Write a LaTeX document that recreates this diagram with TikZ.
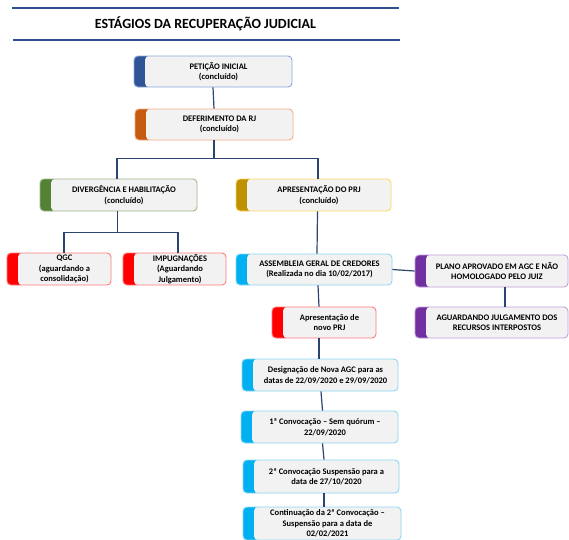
\documentclass[tikz,border=0pt]{standalone}
\usepackage{fontspec}
\setmainfont{Carlito}
\definecolor{boxgray}{HTML}{F2F2F2}
\definecolor{linec}{HTML}{2B4470}
\definecolor{titlec}{HTML}{2F4F8F}
\definecolor{tabblue}{HTML}{2F5597}\definecolor{bdblue}{HTML}{8FAADC}
\definecolor{taborange}{HTML}{C55A11}\definecolor{bdorange}{HTML}{F4B183}
\definecolor{tabgreen}{HTML}{548235}\definecolor{bdgreen}{HTML}{9DB88A}
\definecolor{tabgold}{HTML}{BF9000}\definecolor{bdgold}{HTML}{FFD966}
\definecolor{tabred}{HTML}{FF0000}\definecolor{bdred}{HTML}{FF7C80}
\definecolor{tabcyan}{HTML}{00B0F0}\definecolor{bdcyan}{HTML}{8DD8F5}
\definecolor{tabpurple}{HTML}{7030A0}\definecolor{bdpurple}{HTML}{C3A0DE}
\tikzset{
  stagebox/.style 2 args={rectangle, rounded corners=4pt, draw=#2, fill=boxgray,
    line width=0.9pt, inner sep=0pt,
    path picture={
      \fill[#1] (path picture bounding box.south west) rectangle
        ([xshift=16pt]path picture bounding box.north west);
      \fill[boxgray, rounded corners=4pt] ([xshift=11pt]path picture bounding box.south west)
        rectangle ([xshift=8pt]path picture bounding box.north east);
    }},
  stagetext/.style={align=center, inner sep=0pt, font=\bfseries\fontsize{8.5}{10.5}\selectfont, text=black},
  conn/.style={draw=linec, line width=1.2pt},
}
\newcommand\stage[8]{%
  \node[stagebox={#6}{#7}, minimum width={#4-#2}, minimum height={#5-#3}] (#1) at ({(#2+#4)/2},{(#3+#5)/2}) {};
  \node[stagetext] (#1-t) at ([xshift=5.5pt]#1.center) {#8};
}
\begin{document}
\begin{tikzpicture}[x=1pt,y=-1pt]
\useasboundingbox (0,0) rectangle (569,539);
\fill[white] (0,0) rectangle (569,539);
% title
\coordinate (tl1) at (12,8); \coordinate (tr1) at (399,8);
\coordinate (tl2) at (13,40); \coordinate (tr2) at (400,40);
\draw[titlec, line width=1.4pt] (tl1) -- (tr1);
\draw[titlec, line width=1.4pt] (tl2) -- (tr2);
\node[font=\bfseries\fontsize{14}{16}\selectfont, inner sep=0pt] (title) at (205.5,24) {ESTÁGIOS DA RECUPERAÇÃO JUDICIAL};
% boxes
\stage{pet}{134}{56}{292}{87}{tabblue}{bdblue}{PETIÇÃO INICIAL\\(concluído)}
\stage{def}{135}{109}{293}{140}{taborange}{bdorange}{DEFERIMENTO DA RJ\\(concluído)}
\stage{div}{40}{179}{197}{211}{tabgreen}{bdgreen}{DIVERGÊNCIA E HABILITAÇÃO\\(concluído)}
\stage{apr}{236}{179}{391}{211}{tabgold}{bdgold}{APRESENTAÇÃO DO PRJ\\(concluído)}
\stage{qgc}{7}{253}{111}{285}{tabred}{bdred}{QGC\\(aguardando a\\consolidação)}
\stage{imp}{123}{253}{226}{285}{tabred}{bdred}{IMPUGNAÇÕES\\(Aguardando\\Julgamento)}
\stage{ass}{236}{254}{392}{285}{tabcyan}{bdcyan}{ASSEMBLEIA GERAL DE CREDORES\\(Realizada no dia 10/02/2017)}
\stage{pla}{415}{255}{568}{287}{tabpurple}{bdpurple}{PLANO APROVADO EM AGC E NÃO\\HOMOLOGADO PELO JUIZ}
\stage{agu}{415}{307}{568}{338}{tabpurple}{bdpurple}{AGUARDANDO JULGAMENTO DOS\\RECURSOS INTERPOSTOS}
\stage{nov}{272}{307}{376}{338}{tabred}{bdred}{Apresentação de\\novo PRJ}
\stage{des}{242}{359}{398}{391}{tabcyan}{bdcyan}{Designação de Nova AGC para as\\datas de 22/09/2020 e 29/09/2020}
\stage{cv1}{241}{411}{398}{443}{tabcyan}{bdcyan}{1ª Convocação – Sem quórum –\\22/09/2020}
\stage{cv2}{243}{460}{399}{493}{tabcyan}{bdcyan}{2ª Convocação Suspensão para a\\data de 27/10/2020}
\stage{cnt}{243}{507}{401}{540}{tabcyan}{bdcyan}{Continuação da 2ª Convocação –\\Suspensão para a data de\\02/02/2021}
% connectors
\draw[conn] (pet.south) -- (def.north);
\draw[conn] (def.south) -- ++(0,18) coordinate (j1);
\draw[conn] ([xshift=-1.5pt]div.north) |- (j1) -| ([xshift=4.5pt]apr.north);
\draw[conn] ([xshift=-1pt]div.south) -- ++(0,21) coordinate (j2);
\draw[conn] ([xshift=5pt]qgc.north) |- (j2) -| ([xshift=3.5pt]imp.north);
\draw[conn] ([xshift=4pt]apr.south) -- ([xshift=3pt]ass.north);
\draw[conn] (ass.east) -- (pla.west);
\draw[conn] ([xshift=13.5pt]pla.south) -- ([xshift=13.5pt]agu.north);
\draw[conn] ([xshift=4pt]ass.south) -- ([xshift=-5pt]nov.north);
\draw[conn] ([xshift=-5pt]nov.south) -- ([xshift=-1pt]des.north);
\draw[conn] ([xshift=1pt]des.south) -- ([xshift=3pt]cv1.north);
\draw[conn] ([xshift=3pt]cv1.south) -- ([xshift=3pt]cv2.north);
\draw[conn] ([xshift=3pt]cv2.south) -- ([xshift=2pt]cnt.north);
\end{tikzpicture}
\end{document}
